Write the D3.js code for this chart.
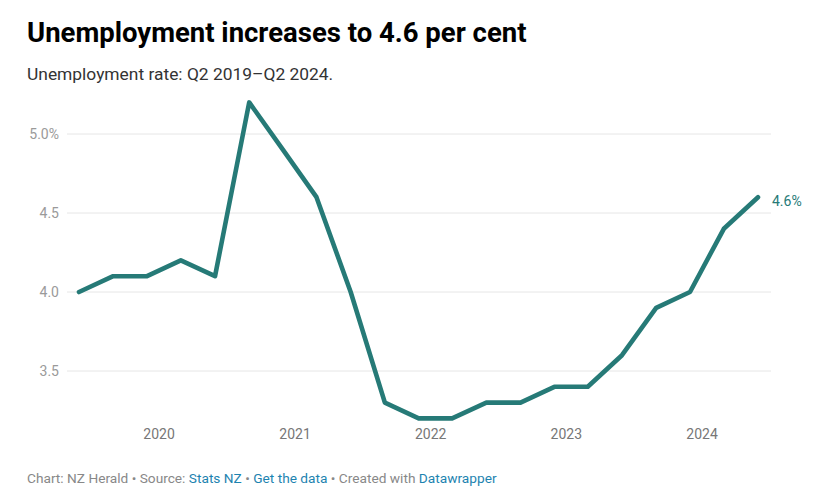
<!DOCTYPE html>
<html>
<head>
<meta charset="utf-8">
<script src="https://cdn.jsdelivr.net/npm/d3@7"></script>
<style>
  html, body { margin: 0; padding: 0; background: #fff; }
  body { width: 826px; height: 497px; overflow: hidden; font-family: Roboto, "Noto Sans", sans-serif; }
  svg text { font-family: Roboto, "Noto Sans", sans-serif; }
</style>
</head>
<body>
<svg id="chart" width="826" height="497"></svg>
<script>
// ---- Data ----
const quarters = [
  "2019 Q2","2019 Q3","2019 Q4",
  "2020 Q1","2020 Q2","2020 Q3","2020 Q4",
  "2021 Q1","2021 Q2","2021 Q3","2021 Q4",
  "2022 Q1","2022 Q2","2022 Q3","2022 Q4",
  "2023 Q1","2023 Q2","2023 Q3","2023 Q4",
  "2024 Q1","2024 Q2"
];
const unemploymentRate = [
  4.0, 4.1, 4.1,
  4.2, 4.1, 5.2, 4.9,
  4.6, 4.0, 3.3, 3.2,
  3.2, 3.3, 3.3, 3.4,
  3.4, 3.6, 3.9, 4.0,
  4.4, 4.6
];
const yTickValues = [3.5, 4.0, 4.5, 5.0];
const yTickLabels = ["3.5", "4.0", "4.5", "5.0%"];
const xTickYears = [2020, 2021, 2022, 2023, 2024];

const title = "Unemployment increases to 4.6 per cent";
const subtitle = "Unemployment rate: Q2 2019\u2013Q2 2024.";

// ---- Helpers ----
function quarterToDate(s) {
  const [y, q] = s.split(" Q").map(Number);
  return new Date(y, (q - 1) * 3 + 2, 1);
}
const data = quarters.map((q, i) => ({ date: quarterToDate(q), value: unemploymentRate[i] }));

const svg = d3.select("#chart");
const lineColor = "#267a77";

// ---- Scales ----
const x = d3.scaleTime()
  .domain(d3.extent(data, d => d.date))
  .range([79, 758]);
const y = d3.scaleLinear()
  .domain([3.5, 5.0])
  .range([371, 134]);

// ---- Header ----
svg.append("text")
  .attr("x", 27).attr("y", 42)
  .attr("font-size", 27.5).attr("font-weight", 700).attr("fill", "#000")
  .text(title);
svg.append("text")
  .attr("x", 27).attr("y", 80)
  .attr("font-size", 17.4).attr("fill", "#333")
  .text(subtitle);

// ---- Gridlines + y labels ----
const grid = svg.append("g");
yTickValues.forEach((v, i) => {
  grid.append("line")
    .attr("x1", 67).attr("x2", 771)
    .attr("y1", y(v)).attr("y2", y(v))
    .attr("stroke", "#e6e6e6").attr("stroke-width", 1);
  grid.append("text")
    .attr("x", 59).attr("y", y(v)).attr("dy", "0.35em")
    .attr("text-anchor", "end")
    .attr("font-size", 14).attr("fill", "#9a9a9a")
    .text(yTickLabels[i]);
});

// ---- X axis (labels only) ----
const xAxis = d3.axisBottom(x)
  .tickValues(xTickYears.map(yr => new Date(yr, 0, 1)))
  .tickFormat(d3.timeFormat("%Y"))
  .tickSize(0).tickPadding(0);
const xg = svg.append("g").attr("transform", "translate(0,429)").call(xAxis);
xg.select(".domain").remove();
xg.selectAll("text")
  .attr("font-size", 14).attr("fill", "#777")
  .attr("font-family", "Roboto, 'Noto Sans', sans-serif");

// ---- Line ----
const line = d3.line().x(d => x(d.date)).y(d => y(d.value));
svg.append("path")
  .datum(data)
  .attr("d", line)
  .attr("fill", "none")
  .attr("stroke", lineColor)
  .attr("stroke-width", 4.6)
  .attr("stroke-linejoin", "round")
  .attr("stroke-linecap", "round");

// ---- End label ----
const last = data[data.length - 1];
svg.append("text")
  .attr("x", x(last.date) + 14).attr("y", y(last.value) + 4)
  .attr("dy", "0.35em")
  .attr("font-size", 14).attr("fill", lineColor)
  .text(d3.format(".1f")(last.value) + "%");

// ---- Footer ----
const foot = svg.append("text")
  .attr("x", 27).attr("y", 483)
  .attr("font-size", 13.7).attr("fill", "#888");
foot.append("tspan").text("Chart: NZ Herald \u2022 Source: ");
foot.append("tspan").attr("fill", "#1d83b0").text("Stats NZ");
foot.append("tspan").text(" \u2022 ");
foot.append("tspan").attr("fill", "#1d83b0").text("Get the data");
foot.append("tspan").text(" \u2022 Created with ");
foot.append("tspan").attr("fill", "#1d83b0").text("Datawrapper");
</script>
</body>
</html>
